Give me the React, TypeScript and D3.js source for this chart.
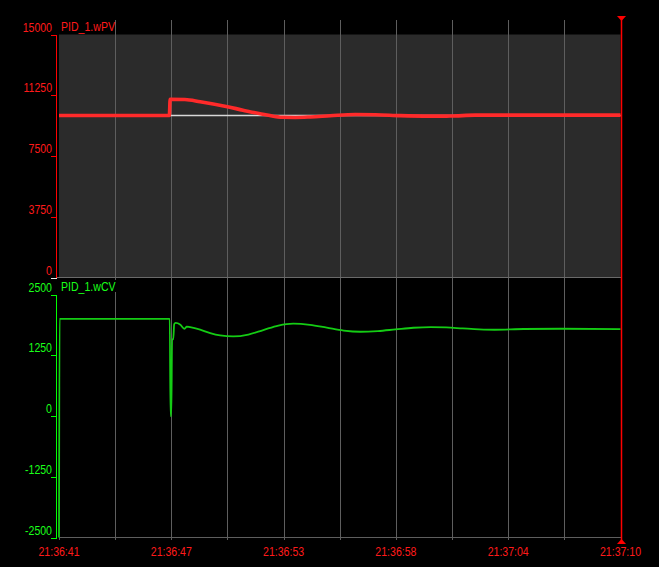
import React from 'react';
import * as d3 from 'd3';

// ---- data (seconds after 21:36:41) ----
const START_HMS = [21, 36, 41];
const SPAN_SECONDS = 29;

const pvLabel = 'PID_1.wPV';
const cvLabel = 'PID_1.wCV';

const pvTime = [0, 5.7, 5.74, 6.5, 7.29, 8.7, 9.5, 10.74, 11.55, 12.2, 12.98, 14.0, 15.3, 16.34, 17.63, 19.18, 20.2, 21.5, 29];
const pvValue = [10000, 10000, 11000, 10990, 10850, 10540, 10330, 10030, 9890, 9880, 9910, 9980, 10060, 10050, 9990, 9960, 9965, 10025, 10025];

const spTime = [0, 29];
const spValue = [10000, 10000];

const cvTime = [0, 0.03, 5.72, 5.76, 5.8, 5.84, 5.9, 5.95, 6.02, 6.25, 6.48, 6.6, 6.77, 7.29, 7.81, 8.32, 9.0, 9.78, 10.55, 11.33, 12.1, 12.96, 13.83, 14.7, 15.56, 16.47, 17.38, 18.3, 19.2, 20.0, 20.85, 21.7, 22.5, 24.0, 26.0, 29];
const cvValue = [-2500, 2000, 2000, 0, 0, 1575, 1575, 1890, 1915, 1885, 1795, 1840, 1828, 1775, 1705, 1658, 1637, 1676, 1768, 1861, 1900, 1876, 1817, 1758, 1734, 1748, 1782, 1816, 1830, 1822, 1802, 1783, 1775, 1790, 1795, 1788];

const pvTicks = [0, 3750, 7500, 11250, 15000];
const cvTicks = [-2500, -1250, 0, 1250, 2500];
const gridCount = 10;

const FONT = "'Liberation Sans', Arial, sans-serif";

function fmtTime(sec: number) {
  const total = Math.round(START_HMS[0] * 3600 + START_HMS[1] * 60 + START_HMS[2] + sec);
  const h = Math.floor(total / 3600);
  const m = Math.floor((total % 3600) / 60);
  const s = total % 60;
  const p = (n: number) => String(n).padStart(2, '0');
  return `${p(h)}:${p(m)}:${p(s)}`;
}

function Txt({ x, y, anchor = 'start', fill, children }: any) {
  return (
    <text
      transform={`translate(${x},${y}) scale(0.88,1)`}
      textAnchor={anchor}
      fill={fill}
      fontFamily={FONT}
      fontSize={12}
    >
      {children}
    </text>
  );
}

export default function App() {
  const W = 659;
  const H = 567;
  const left = 59;
  const right = 620.5;
  const x = d3.scaleLinear().domain([0, SPAN_SECONDS]).range([left, right]);
  const yPV = d3.scaleLinear().domain([0, 15000]).range([277.5, 34.5]);
  const yCV = d3.scaleLinear().domain([-2500, 2500]).range([537.5, 294.5]);

  const gridTicks = d3.range(0, gridCount + 1).map((i) => (i * SPAN_SECONDS) / gridCount);

  const pvData = pvTime.map((t, i) => [t, pvValue[i]] as [number, number]);
  const spData = spTime.map((t, i) => [t, spValue[i]] as [number, number]);
  const cvData = cvTime.map((t, i) => [t, cvValue[i]] as [number, number]);

  const linePV = d3
    .line<[number, number]>()
    .x((d) => x(d[0]))
    .y((d) => yPV(d[1]))
    .curve(d3.curveMonotoneX);
  const lineCV = d3
    .line<[number, number]>()
    .x((d) => x(d[0]))
    .y((d) => yCV(d[1]))
    .curve(d3.curveMonotoneX);

  const axisX = 56.5;
  const cursorX = Math.round(x(SPAN_SECONDS)) + 0.5;

  return (
    <svg
      width={W}
      height={H}
      style={{ position: 'absolute', left: 0, top: 0, display: 'block', background: '#000' }}
    >
      <rect x={0} y={0} width={W} height={H} fill="#000" />
      {/* top panel background */}
      <rect x={left} y={yPV(15000)} width={right - left} height={yPV(0) - yPV(15000)} fill="#2b2b2b" />

      {/* vertical grid */}
      {gridTicks.slice(1, gridCount).map((t, i) => {
        const gx = Math.round(x(t)) + 0.5;
        return <line key={'g' + i} x1={gx} x2={gx} y1={20} y2={540} stroke="#5e5e5e" strokeWidth={1} shapeRendering="crispEdges" />;
      })}
      <line x1={left + 0.5} x2={left + 0.5} y1={537} y2={540} stroke="#5e5e5e" shapeRendering="crispEdges" />

      {/* panel separator & bottom baseline */}
      <line x1={57} x2={right} y1={277.5} y2={277.5} stroke="#6a6a6a" shapeRendering="crispEdges" />
      <line x1={left} x2={right} y1={537.5} y2={537.5} stroke="#5e5e5e" shapeRendering="crispEdges" />

      {/* labels */}
      <Txt x={61} y={31} fill="#ff1a1a">{pvLabel}</Txt>
      <rect x={58} y={280} width={58} height={12} fill="#000" />
      <Txt x={61} y={291} fill="#1aff1a">{cvLabel}</Txt>

      {/* PV axis */}
      <line x1={axisX} x2={axisX} y1={yPV(15000)} y2={yPV(0)} stroke="#ff0000" shapeRendering="crispEdges" />
      {pvTicks.map((v, i) => (
        <g key={'pt' + i}>
          <line x1={51} x2={57} y1={Math.round(yPV(v)) + 0.5} y2={Math.round(yPV(v)) + 0.5} stroke={v === 0 ? '#e8e8e8' : '#ff0000'} shapeRendering="crispEdges" />
          <Txt x={52} y={yPV(v) - 3} anchor="end" fill="#ff1a1a">{String(v)}</Txt>
        </g>
      ))}

      {/* CV axis */}
      <line x1={axisX} x2={axisX} y1={yCV(2500)} y2={yCV(-2500)} stroke="#00ff00" shapeRendering="crispEdges" />
      {cvTicks.map((v, i) => (
        <g key={'ct' + i}>
          <line x1={51} x2={57} y1={Math.round(yCV(v)) + 0.5} y2={Math.round(yCV(v)) + 0.5} stroke="#00ff00" shapeRendering="crispEdges" />
          <Txt x={52} y={yCV(v) - 3} anchor="end" fill="#1aff1a">{String(v)}</Txt>
        </g>
      ))}

      {/* series */}
      <path d={linePV(spData) || ''} fill="none" stroke="#d8d8d8" strokeWidth={1.5} />
      <path d={linePV(pvData) || ''} fill="none" stroke="#ff2a2a" strokeWidth={3.6} strokeLinejoin="round" />
      <path d={lineCV(cvData) || ''} fill="none" stroke="#14cc14" strokeWidth={1.8} strokeLinejoin="round" />

      {/* time labels */}
      {gridTicks.map((t, i) =>
        i % 2 === 0 ? (
          <Txt key={'xl' + i} x={x(t)} y={556} anchor="middle" fill="#ff1a1a">{fmtTime(t)}</Txt>
        ) : null
      )}

      {/* cursor */}
      <line x1={cursorX} x2={cursorX} y1={16} y2={544} stroke="#ff0000" strokeWidth={1.5} />
      <path d={`M${cursorX - 4.5},16 L${cursorX + 4.5},16 L${cursorX},21 Z`} fill="#ff0000" />
      <path d={`M${cursorX - 4.5},544 L${cursorX + 4.5},544 L${cursorX},539 Z`} fill="#ff0000" />
    </svg>
  );
}
